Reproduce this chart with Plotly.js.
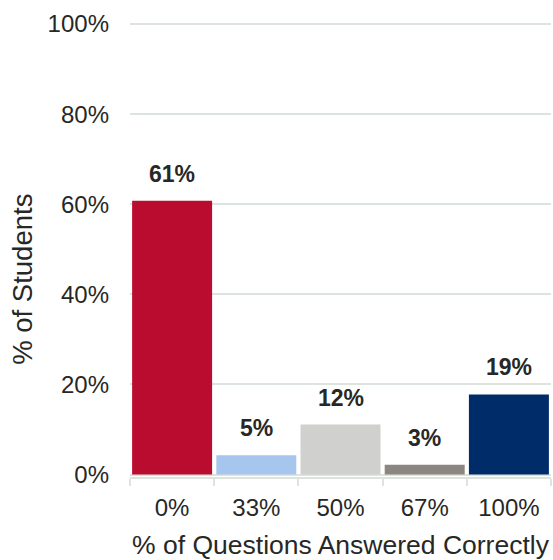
<!DOCTYPE html>
<html>
<head>
<meta charset="utf-8">
<script src="https://cdn.plot.ly/plotly-3.0.1.min.js"></script>
<style>html,body{margin:0;padding:0;background:#fff;}#chart{width:553px;height:560px;}</style>
</head>
<body>
<div id="chart"></div>
<script>
const categories = ["0%", "33%", "50%", "67%", "100%"];
const shares = [0.608, 0.043, 0.111, 0.022, 0.178];
const shareLabels = ["61%", "5%", "12%", "3%", "19%"];
const barColors = ["#BA0C2F", "#A7C6ED", "#D0D0CE", "#8B8682", "#002D6A"];
const yTickVals = [0, 0.2, 0.4, 0.6, 0.8, 1.0];
const yTickText = ["0%", "20%", "40%", "60%", "80%", "100%"];
const yTitle = "% of Students";
const xTitle = "% of Questions Answered Correctly";

const textColor = "#262826";
const gridColor = "#dde3dd";
const font = "Liberation Sans, Arial, sans-serif";

const trace = {
  type: "bar",
  x: categories,
  y: shares,
  marker: { color: barColors, line: { width: 0 } },
  hoverinfo: "none"
};

const annotations = categories.map((c, i) => ({
  x: c, y: shares[i], xref: "x", yref: "y",
  text: "<b>" + shareLabels[i] + "</b>",
  showarrow: false, yanchor: "bottom", yshift: 12,
  font: { family: font, size: 23, color: textColor }
}));

annotations.push({
  xref: "paper", yref: "paper", x: -0.2571, y: 0.435,
  xanchor: "center", yanchor: "middle", textangle: -90,
  text: yTitle, showarrow: false,
  font: { family: font, size: 27.5, color: textColor }
});

const layout = {
  width: 553, height: 560,
  margin: { l: 129.5, r: 1.5, t: 22, b: 83.3 },
  paper_bgcolor: "#fff", plot_bgcolor: "#fff",
  showlegend: false,
  bargap: 0.05,
  font: { family: font, size: 24, color: textColor },
  xaxis: {
    type: "category",
    showline: true, linecolor: gridColor, linewidth: 2,
    ticks: "outside", tickson: "boundaries", ticklen: 7, tickwidth: 2, tickcolor: gridColor,
    showgrid: false, zeroline: false,
    ticklabelstandoff: 8,
    tickfont: { family: font, size: 24, color: textColor },
    title: { text: xTitle, font: { family: font, size: 26.5, color: textColor }, standoff: 20 },
    automargin: false
  },
  yaxis: {
    range: [-0.0053, 1.0044],
    tickvals: yTickVals, ticktext: yTickText,
    showgrid: true, gridcolor: gridColor, gridwidth: 2,
    zeroline: false, showline: false, ticks: "",
    ticklabelstandoff: 20,
    tickfont: { family: font, size: 24, color: textColor },
    automargin: false
  },
  annotations: annotations
};

Plotly.newPlot("chart", [trace], layout, { displayModeBar: false, staticPlot: true });
</script>
</body>
</html>
